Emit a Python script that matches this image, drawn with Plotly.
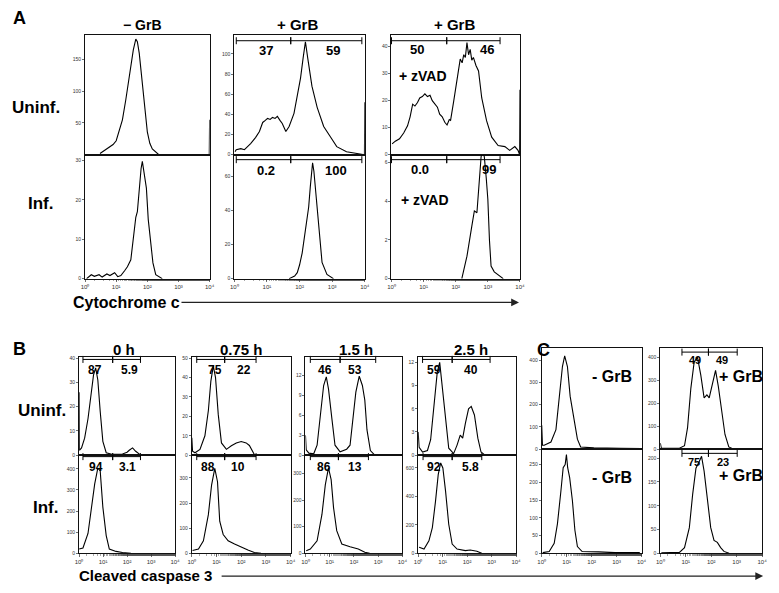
import plotly.graph_objects as go

W, H = 779, 593

# ---------------- data: x in log10 decades of fluorescence, y = cell counts ----------------
# Panel A : cytochrome c
A_uninf_noGrB_x = [0.48, 0.6, 0.75, 0.9, 1.0, 1.1, 1.2, 1.31, 1.4, 1.47, 1.55, 1.63, 1.68, 1.74, 1.82, 1.9, 2.0, 2.08, 2.16, 2.37, 3.99, 4.0]
A_uninf_noGrB_y = [2, 6, 10, 16, 22, 38, 55, 87, 115, 140, 165, 182, 178, 160, 125, 87, 36, 18, 9, 0, 0, 55]
A_inf_noGrB_x = [0.05, 0.2, 0.3, 0.45, 0.55, 0.7, 0.8, 0.95, 1.05, 1.15, 1.27, 1.36, 1.47, 1.55, 1.63, 1.68, 1.74, 1.8, 1.84, 1.9, 1.97, 2.03, 2.11, 2.18, 2.27, 2.4, 2.48]
A_inf_noGrB_y = [0, 1, 0.6, 1, 0.4, 1.2, 0.8, 1.5, 0.5, 0.8, 2, 3, 4.8, 10, 15.6, 17, 23.9, 28, 29.8, 26, 23, 15, 9.8, 4, 1, 0.3, 0]
A_uninf_GrB_x = [0.02, 0.06, 0.2, 0.31, 0.5, 0.65, 0.77, 0.87, 0.95, 1.02, 1.1, 1.17, 1.25, 1.32, 1.4, 1.47, 1.58, 1.68, 1.83, 1.93, 2.03, 2.11, 2.18, 2.25, 2.38, 2.54, 2.74, 2.94, 3.14, 3.44, 3.8, 3.97, 3.99, 4.0]
A_uninf_GrB_y = [3, 5, 6, 5, 11, 17, 23, 32, 34, 36, 35, 37, 36, 38, 34, 31, 23, 28, 41, 57, 76, 96, 112, 96, 68, 47, 28, 18, 8, 3, 1, 0.5, 0, 52]
A_inf_GrB_x = [1.68, 1.85, 1.93, 2.0, 2.08, 2.16, 2.23, 2.28, 2.33, 2.37, 2.4, 2.44, 2.48, 2.54, 2.59, 2.69, 2.84, 3.04]
A_inf_GrB_y = [0, 1.5, 3.5, 8, 15, 26, 36.6, 42, 54, 62, 68, 63, 54, 40, 27, 9.5, 2.5, 0]
A_uninf_zVAD_x = [0.02, 0.12, 0.25, 0.38, 0.5, 0.58, 0.66, 0.73, 0.81, 0.88, 0.96, 1.04, 1.12, 1.2, 1.27, 1.35, 1.43, 1.5, 1.58, 1.66, 1.73, 1.8, 1.84, 1.94, 2.04, 2.14, 2.2, 2.25, 2.3, 2.35, 2.4, 2.45, 2.5, 2.55, 2.63, 2.71, 2.81, 2.96, 3.12, 3.32, 3.53, 3.68, 3.84, 3.94, 3.99, 4.0]
A_uninf_zVAD_y = [4, 5, 5.9, 8, 10.7, 14, 18.7, 18, 19.3, 21, 21.5, 22.5, 21.5, 22, 20, 19, 17.6, 15, 14, 12, 11, 13, 12.7, 20, 28.7, 35.4, 34, 37, 36, 41.5, 37, 39, 35, 36, 33, 31, 21, 12.6, 6.5, 3.4, 3, 1.6, 3, 1.6, 0, 24]
A_inf_zVAD_x = [2.19, 2.35, 2.5, 2.58, 2.66, 2.73, 2.79, 2.84, 2.89, 2.95, 3.0, 3.05, 3.1, 3.2, 3.32, 3.48]
A_inf_zVAD_y = [0, 1.16, 2.7, 3.5, 3.4, 5.1, 6.3, 6.5, 6.3, 5.2, 4.1, 2, 0.65, 0.35, 0.2, 0]

# Panel B : cleaved caspase 3 time course
B_uninf_0h_x = [0.0, 0.01, 0.1, 0.23, 0.37, 0.51, 0.6, 0.69, 0.78, 0.88, 0.99, 1.13, 1.4, 1.81, 2.0, 2.09, 2.23, 2.36, 2.57]
B_uninf_0h_y = [26, 2, 3, 7, 15, 25, 33, 36, 31, 18, 5.7, 1, 0.3, 0.5, 1.2, 2, 3, 1.6, 0]
B_inf_0h_x = [0.0, 0.16, 0.37, 0.51, 0.65, 0.78, 0.88, 0.99, 1.13, 1.26, 1.54, 1.81, 2.16]
B_inf_0h_y = [20, 25, 94, 219, 329, 404, 390, 219, 84, 20, 9, 4, 0]
B_uninf_075h_x = [0.0, 0.03, 0.13, 0.33, 0.53, 0.67, 0.77, 0.87, 0.96, 1.07, 1.2, 1.4, 1.6, 1.8, 2.0, 2.2, 2.33, 2.53, 2.67]
B_uninf_075h_y = [9, 2, 1.2, 3, 10, 23, 38, 46, 40, 21, 6.3, 3, 4.8, 6.3, 7, 6.3, 5, 0.3, 0]
B_inf_075h_x = [0.03, 0.27, 0.47, 0.67, 0.8, 0.93, 1.04, 1.13, 1.27, 1.47, 1.73, 2.0, 2.27, 2.53, 2.8]
B_inf_075h_y = [11, 17, 50, 154, 272, 338, 285, 128, 75, 50, 37, 24, 13, 3, 0]
B_uninf_15h_x = [0.0, 0.03, 0.14, 0.34, 0.48, 0.61, 0.75, 0.86, 0.95, 1.09, 1.22, 1.43, 1.7, 1.84, 1.97, 2.08, 2.22, 2.35, 2.45, 2.54, 2.68, 2.86]
B_uninf_15h_y = [3, 0.8, 0.3, 0.2, 1.5, 6, 10.5, 11.8, 10, 5.5, 1.5, 0.5, 0.9, 1.5, 5.8, 9.5, 11.9, 10.5, 8.3, 3.8, 0.7, 0]
B_inf_15h_x = [0.03, 0.2, 0.48, 0.68, 0.82, 0.95, 1.06, 1.16, 1.29, 1.5, 1.84, 2.18, 2.45, 2.65]
B_inf_15h_y = [10, 16, 47, 146, 258, 321, 277, 171, 85, 35, 25, 16, 4, 0]
B_uninf_25h_x = [0.0, 0.04, 0.18, 0.38, 0.51, 0.65, 0.78, 0.88, 0.98, 1.12, 1.25, 1.45, 1.59, 1.72, 1.82, 1.93, 2.06, 2.17, 2.3, 2.44, 2.57, 2.73]
B_uninf_25h_y = [3, 1, 0.4, 0.6, 2, 6.4, 10.7, 12, 9, 3.9, 0.9, 0.2, 1.3, 2.6, 2.2, 4.1, 6, 6.3, 5.2, 2.2, 0.4, 0]
B_inf_25h_x = [0.04, 0.24, 0.44, 0.58, 0.71, 0.82, 0.92, 1.01, 1.12, 1.25, 1.39, 1.59, 1.93, 2.13, 2.4, 2.6]
B_inf_25h_y = [42, 30, 88, 181, 367, 553, 635, 600, 437, 204, 65, 30, 19, 23, 14, 0]

# Panel C : cleaved caspase 3 +/- GrB
C_uninf_noGrB_x = [0.0, 0.03, 0.1, 0.37, 0.57, 0.7, 0.83, 0.92, 1.03, 1.14, 1.29, 1.43, 1.56, 2.09, 3.14, 4.0]
C_uninf_noGrB_y = [107, 18, 18, 32, 88, 237, 371, 419, 371, 237, 134, 45, 10, 6, 4, 3]
C_inf_noGrB_x = [0.04, 0.3, 0.5, 0.63, 0.77, 0.86, 0.94, 0.99, 1.04, 1.12, 1.23, 1.33, 1.43, 1.62, 2.28, 2.94, 3.93]
C_inf_noGrB_y = [2, 5, 28, 83, 176, 241, 250, 278, 241, 213, 148, 65, 19, 5, 4, 2, 2]
C_uninf_GrB_x = [0.0, 0.04, 0.1, 0.75, 0.95, 1.07, 1.2, 1.33, 1.46, 1.59, 1.72, 1.83, 1.92, 2.05, 2.17, 2.28, 2.41, 2.54, 2.69, 2.82, 4.0]
C_uninf_GrB_y = [26, 4, 4, 4, 15, 94, 266, 380, 400, 322, 223, 236, 223, 287, 343, 272, 164, 64, 10, 3, 2]
C_inf_GrB_x = [0.04, 0.75, 0.95, 1.14, 1.27, 1.4, 1.53, 1.62, 1.72, 1.85, 1.98, 2.11, 2.24, 2.37, 2.5, 2.7]
C_inf_GrB_y = [1, 2, 12, 54, 124, 179, 193, 204, 173, 110, 54, 27, 23, 12, 4, 0]

# gate boundaries (log10) and gate percentages
gate_A_GrB = [0.06, 1.73, 3.91]
gate_A_zVAD = [0.0, 1.72, 3.38]
pct_A_uninf_GrB = ["37", "59"]
pct_A_inf_GrB = ["0.2", "100"]
pct_A_uninf_zVAD = ["50", "46"]
pct_A_inf_zVAD = ["0.0", "99"]
gate_B0 = [0.16, 1.40, 2.56]
gate_B075 = [0.2, 1.33, 2.6]
gate_B15_top = [0.2, 1.43, 2.9]
gate_B15_bot = [0.2, 1.36, 2.6]
gate_B25_top = [0.18, 1.39, 2.94]
gate_B25_bot = [0.2, 1.39, 2.6]
pct_B_uninf = [["87", "5.9"], ["75", "22"], ["46", "53"], ["59", "40"]]
pct_B_inf = [["94", "3.1"], ["88", "10"], ["86", "13"], ["92", "5.8"]]
gate_C = [0.85, 1.89, 3.02]
pct_C_uninf = ["49", "49"]
pct_C_inf = ["75", "23"]

xtick_vals = [1, 10, 100, 1000, 10000]
xtick_text = ["10\u2070", "10\u00b9", "10\u00b2", "10\u00b3", "10\u2074"]

FONT = "Liberation Sans, Arial, sans-serif"

# ---------------- panel layout (pixel boxes) ----------------
P = []
def add(xd, yd, x0, x1, y0, y1, ymax, yt, showx, gate=None, gfrac=0.95, labs=None, labx=None, lfrac=0.88, lsize=13):
    P.append(dict(xd=xd, yd=yd, x0=x0, x1=x1, y0=y0, y1=y1, ymax=ymax, yt=yt, showx=showx,
                  gate=gate, gfrac=gfrac, labs=labs, labx=labx, lfrac=lfrac, lsize=lsize))

# A
add(A_uninf_noGrB_x, A_uninf_noGrB_y, 82, 208, 33, 154, 189, [50, 100, 150], False)
add(A_inf_noGrB_x, A_inf_noGrB_y, 82, 208, 154, 279, 31.5, [0, 10, 20, 30], True)
add(A_uninf_GrB_x, A_uninf_GrB_y, 233, 365, 33, 154, 119, [0, 20, 40, 60, 80, 100], False,
    gate_A_GrB, 0.95, pct_A_uninf_GrB, [0.97, 3.03], 0.87)
add(A_inf_GrB_x, A_inf_GrB_y, 233, 365, 154, 279, 72.7, [0, 20, 40, 60], True,
    gate_A_GrB, 0.96, pct_A_inf_GrB, [0.97, 3.12], 0.87)
add(A_uninf_zVAD_x, A_uninf_zVAD_y, 392, 522, 33, 154, 44.4, [0, 10, 20, 30, 40], False,
    gate_A_zVAD, 0.95, pct_A_uninf_zVAD, [0.8, 2.98], 0.88)
add(A_inf_zVAD_x, A_inf_zVAD_y, 392, 522, 154, 279, 6.4, [0, 2, 4, 6], True,
    gate_A_zVAD, 0.96, pct_A_inf_zVAD, [0.9, 3.05], 0.88)
# B
bx = [(76, 173), (190, 290), (305, 403), (419, 518)]
bdata = [(B_uninf_0h_x, B_uninf_0h_y, B_inf_0h_x, B_inf_0h_y, 40.5, [0, 10, 20, 30, 40], 465, [0, 100, 200, 300, 400], gate_B0, gate_B0, [0.66, 2.1], [0.7, 2.0]),
         (B_uninf_075h_x, B_uninf_075h_y, B_inf_075h_x, B_inf_075h_y, 50.6, [0, 10, 20, 30, 40, 50], 391, [0, 100, 200, 300], gate_B075, gate_B075, [0.92, 2.12], [0.67, 1.88]),
         (B_uninf_15h_x, B_uninf_15h_y, B_inf_15h_x, B_inf_15h_y, 14.8, [0, 3, 6, 9, 12], 369, [0, 100, 200, 300], gate_B15_top, gate_B15_bot, [0.82, 2.04], [0.78, 2.04]),
         (B_uninf_25h_x, B_uninf_25h_y, B_inf_25h_x, B_inf_25h_y, 12.7, [0, 3, 6, 9, 12], 690, [0, 200, 400, 600], gate_B25_top, gate_B25_bot, [0.65, 2.14], [0.65, 2.12])]
for k, (xa, ya, xb, yb, m1, t1, m2, t2, g1, g2, l1, l2) in enumerate(bdata):
    add(xa, ya, bx[k][0], bx[k][1], 358, 457, m1, t1, False, g1, 0.975, pct_B_uninf[k], l1, 0.87, 12)
    add(xb, yb, bx[k][0], bx[k][1], 457, 556, m2, t2, True, g2, 0.985, pct_B_inf[k], l2, 0.88, 12)
# C
add(C_uninf_noGrB_x, C_uninf_noGrB_y, 544, 645, 349, 451, 454, [0, 100, 200, 300, 400], False)
add(C_inf_noGrB_x, C_inf_noGrB_y, 544, 645, 451, 556, 293, [0, 50, 100, 150, 200, 250], True)
add(C_uninf_GrB_x, C_uninf_GrB_y, 664, 767, 349, 451, 440, [0, 100, 200, 300, 400], False,
    gate_C, 0.96, pct_C_uninf, [1.36, 2.41], 0.88, 11)
add(C_inf_GrB_x, C_inf_GrB_y, 664, 767, 451, 556, 219, [0, 50, 100, 150, 200], True,
    gate_C, 0.96, pct_C_inf, [1.32, 2.45], 0.88, 11)

fig = go.Figure()
layout = dict(width=W, height=H, margin=dict(l=0, r=0, t=0, b=0),
              paper_bgcolor="white", plot_bgcolor="white", showlegend=False,
              font=dict(family=FONT, color="black"))
annotations = []

for i, p in enumerate(P, 1):
    xs = "" if i == 1 else str(i)
    xa = dict(
        domain=[p["x0"] / W, p["x1"] / W], type="log", range=[0, 4], anchor="y" + xs,
        showline=True, mirror=True, linecolor="#111", linewidth=1, showgrid=False, zeroline=False,
        ticks="outside" if p["showx"] else "", ticklen=2.5, tickwidth=0.7, tickcolor="#333",
        showticklabels=p["showx"], tickvals=xtick_vals, ticktext=xtick_text,
        tickfont=dict(size=6, color="#333", family=FONT), fixedrange=True)
    if p["showx"]:
        xa["minor"] = dict(ticks="outside", ticklen=1.5, tickwidth=0.5, tickcolor="#555", showgrid=False)
    layout["xaxis" + xs] = xa
    layout["yaxis" + xs] = dict(
        domain=[1 - p["y1"] / H, 1 - p["y0"] / H], range=[0, p["ymax"]], anchor="x" + xs,
        showline=True, mirror=True, linecolor="#111", linewidth=1, showgrid=False, zeroline=False,
        ticks="outside", ticklen=2, tickwidth=0.7, tickcolor="#333", tickvals=p["yt"],
        tickfont=dict(size=5, color="#333", family=FONT), fixedrange=True)
    fig.add_trace(go.Scatter(x=[10 ** v for v in p["xd"]], y=p["yd"], mode="lines",
                             line=dict(color="black", width=1.1), xaxis="x" + xs, yaxis="y" + xs,
                             hoverinfo="skip"))
    if p["gate"]:
        g = p["gate"]
        gy = p["gfrac"] * p["ymax"]
        for a, b in [(g[0], g[1]), (g[1], g[2])]:
            fig.add_trace(go.Scatter(x=[10 ** a, 10 ** b], y=[gy, gy], mode="lines+markers",
                                     line=dict(color="black", width=1),
                                     marker=dict(symbol="line-ns", size=5, line=dict(width=1, color="black")),
                                     xaxis="x" + xs, yaxis="y" + xs, hoverinfo="skip", cliponaxis=False))
        for txt_, lx in zip(p["labs"], p["labx"]):
            annotations.append(dict(x=lx, y=p["lfrac"] * p["ymax"], xref="x" + xs, yref="y" + xs,
                                    text="<b>" + txt_ + "</b>", showarrow=False,
                                    font=dict(size=p["lsize"], family=FONT, color="black")))

def txt(s, x, y, size, xanchor="center"):
    annotations.append(dict(x=x / W, y=1 - y / H, xref="paper", yref="paper", text="<b>" + s + "</b>",
                            showarrow=False, xanchor=xanchor, yanchor="middle",
                            font=dict(size=size, family=FONT, color="black")))

# Panel letters
txt("A", 7, 16, 18, "left")
txt("B", 7, 350, 18, "left")
txt("C", 537, 351, 18, "left")
# column titles
txt("\u2212 GrB", 140, 23, 14)
txt("+ GrB", 297, 23, 15)
txt("+ GrB", 456, 23, 15)
txt("0 h", 121, 350, 15)
txt("0.75 h", 240, 350, 15)
txt("1.5 h", 356, 350, 15)
txt("2.5 h", 472, 350, 15)
# row labels
txt("Uninf.", 6, 106, 17, "left")
txt("Inf.", 22, 203, 17, "left")
txt("Uninf.", 12, 412, 17, "left")
txt("Inf.", 27, 510, 17, "left")
# inside labels
txt("+ zVAD", 398, 75, 14, "left")
txt("+ zVAD", 400, 200, 14, "left")
txt("- GrB", 615, 378, 16)
txt("- GrB", 615, 480, 16)
txt("+ GrB", 746, 378, 16)
txt("+ GrB", 746, 478, 16)
# axis titles
txt("Cytochrome c", 68, 303, 16, "left")
txt("Cleaved caspase 3", 74, 578, 15, "left")

# arrows
annotations.append(dict(x=521 / W, y=1 - 303 / H, xref="paper", yref="paper", ax=-339, ay=0,
                        text="", showarrow=True, arrowhead=2, arrowsize=1.2, arrowwidth=1.3, arrowcolor="#222"))
annotations.append(dict(x=768 / W, y=1 - 579 / H, xref="paper", yref="paper", ax=-543, ay=0,
                        text="", showarrow=True, arrowhead=2, arrowsize=1.2, arrowwidth=1.3, arrowcolor="#222"))

layout["annotations"] = annotations
fig.update_layout(**layout)
fig.write_html("out.html", config={"displayModeBar": False, "staticPlot": True},
               post_script="document.body.style.margin='0px';document.body.style.padding='0px';")
